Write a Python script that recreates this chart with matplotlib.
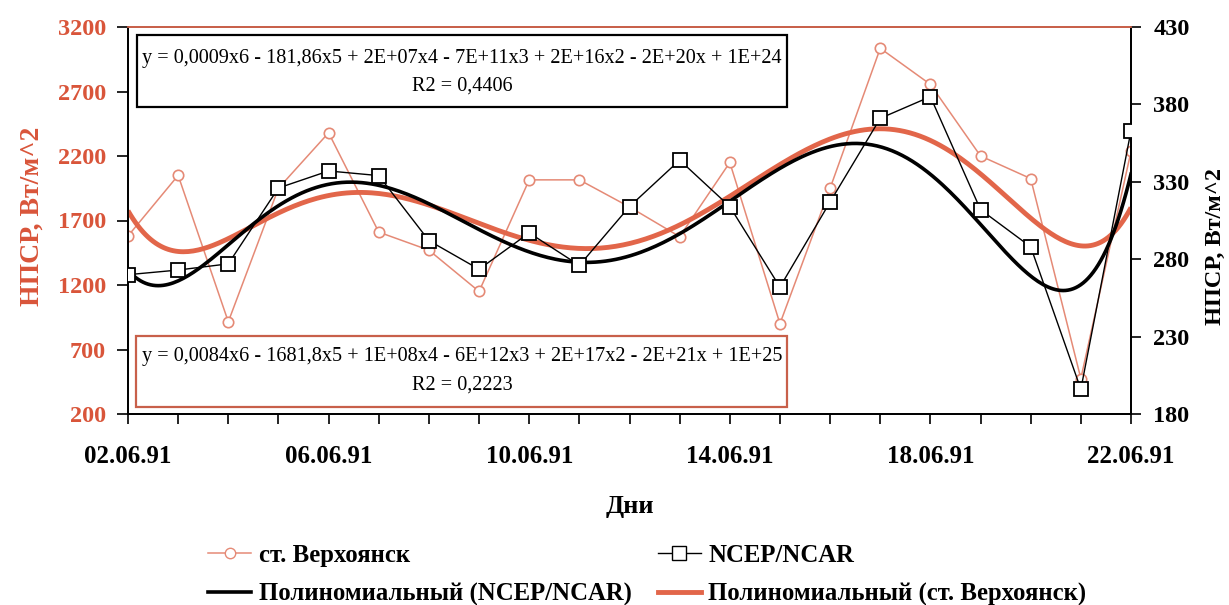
import numpy as np
import matplotlib
matplotlib.use("Agg")
import matplotlib.pyplot as plt
from matplotlib.patches import Rectangle
from matplotlib.lines import Line2D

# ---------------- data ----------------
days = list(range(2, 23))  # 02.06.91 .. 22.06.91
verkhoyansk = [1580, 2050, 915, 1950, 2380, 1610, 1470, 1150, 2015, 2015, 1805,
               1575, 2150, 900, 1950, 3035, 2755, 2200, 2025, 475, 2235]
ncep = [270, 273, 277, 326, 337, 334, 292, 273.5, 297, 276, 314,
        344, 314, 262, 317, 371, 385, 312, 288, 196, 363]
xtick_days = [2, 6, 10, 14, 18, 22]
xtick_labels = ["02.06.91", "06.06.91", "10.06.91", "14.06.91", "18.06.91", "22.06.91"]
left_ticks = [200, 700, 1200, 1700, 2200, 2700, 3200]
right_ticks = [180, 230, 280, 330, 380, 430]
eq_ncep = "y = 0,0009x6 - 181,86x5 + 2E+07x4 - 7E+11x3 + 2E+16x2 - 2E+20x + 1E+24"
r2_ncep = "R2 = 0,4406"
eq_verkh = "y = 0,0084x6 - 1681,8x5 + 1E+08x4 - 6E+12x3 + 2E+17x2 - 2E+21x + 1E+25"
r2_verkh = "R2 = 0,2223"
label_verkh = "ст. Верхоянск"
label_ncep = "NCEP/NCAR"
label_fit_ncep = "Полиномиальный (NCEP/NCAR)"
label_fit_verkh = "Полиномиальный (ст. Верхоянск)"
ylabel = "НПСР, Вт/м^2"
xlabel = "Дни"

RED = "#D9553A"
SALMON = "#E58A76"
FITRED = "#E2664A"

plt.rcParams["font.family"] = ["Liberation Serif", "DejaVu Serif"]

W, H = 1229, 605
fig = plt.figure(figsize=(W / 100, H / 100), dpi=100)
L, R, T, B = 128, 1131, 27, 414
ax = fig.add_axes([L / W, 1 - B / H, (R - L) / W, (B - T) / H])
ax2 = ax.twinx()

# polynomial trend (degree 6) computed from the data
x = np.array(days, dtype=float)
xs = np.linspace(x[0], x[-1], 400)
xc = x.mean()
pv = np.polyfit(x - xc, np.array(verkhoyansk, float), 6)
pn = np.polyfit(x - xc, np.array(ncep, float), 6)

ax.plot(days, verkhoyansk, color=SALMON, lw=1.1, marker="o", ms=7.5,
        mfc="white", mec=SALMON, mew=1.2, zorder=2)
ax.plot(xs, np.polyval(pv, xs - xc), color=FITRED, lw=3.5, zorder=3,
        solid_capstyle="butt")

ax2.plot(xs, np.polyval(pn, xs - xc), color="black", lw=2.6, zorder=3)
ax2.plot(days, ncep, color="black", lw=1.0, marker="s", ms=10.5,
         mfc="white", mec="black", mew=1.3, zorder=4)

ax.set_xlim(2, 22)
ax.set_ylim(200, 3200)
ax2.set_ylim(180, 430)
ax.set_xticks(days)
ax.set_xticklabels([xtick_labels[xtick_days.index(d)] if d in xtick_days else "" for d in days],
                   fontweight="bold")
ax.set_yticks(left_ticks)
ax2.set_yticks(right_ticks)
for t in ax.get_yticklabels() + ax2.get_yticklabels():
    t.set_fontweight("bold")

ax.tick_params(axis="x", direction="out", length=7, width=1.2, pad=15,
               labelsize=18, colors="black")
ax.tick_params(axis="y", direction="out", length=8, width=1.2, pad=8,
               labelsize=17.5, labelcolor=RED, color="black")
ax2.tick_params(axis="y", direction="out", length=7, width=1.2, pad=9,
                labelsize=17.5, labelcolor="black", color="black")

for a in (ax, ax2):
    for s in ("left", "right", "bottom"):
        a.spines[s].set_color("black")
        a.spines[s].set_linewidth(1.3)
    a.spines["top"].set_color("#C8604A")
    a.spines["top"].set_linewidth(1.3)

ax.set_ylabel(ylabel, color=RED, fontsize=20, fontweight="bold")
ax2.set_ylabel(ylabel, color="black", fontsize=17.5, fontweight="bold")
ax.set_xlabel(xlabel, fontsize=19, fontweight="bold")
ax.yaxis.set_label_coords(-0.083, 0.512)
ax2.yaxis.set_label_coords(1.074, 0.434)
ax.xaxis.set_label_coords(0.5, -0.21)

# equation boxes
def px2ax(px, py):
    return (px - L) / (R - L), (B - py) / (B - T)

x0, y1 = px2ax(137, 35)
x1, y0 = px2ax(787, 107)
ax2.add_patch(Rectangle((x0, y0), x1 - x0, y1 - y0, transform=ax2.transAxes,
                        fill=True, facecolor="white", edgecolor="black", lw=1.6, zorder=5))
cx = (x0 + x1) / 2
EQFS = 14.6
ax2.text(cx, px2ax(0, 59)[1], eq_ncep, transform=ax2.transAxes, ha="center", va="center",
         fontsize=EQFS, zorder=6)
ax2.text(cx, px2ax(0, 86)[1], r2_ncep, transform=ax2.transAxes, ha="center", va="center",
         fontsize=EQFS, zorder=6)

x0b, y1b = px2ax(136, 336)
x1b, y0b = px2ax(787, 407)
ax2.add_patch(Rectangle((x0b, y0b), x1b - x0b, y1b - y0b, transform=ax2.transAxes,
                        fill=True, facecolor="white", edgecolor="#C8604A", lw=1.6, zorder=5))
ax2.text(cx, px2ax(0, 357)[1], eq_verkh, transform=ax2.transAxes, ha="center", va="center",
         fontsize=EQFS, zorder=6)
ax2.text(cx, px2ax(0, 385)[1], r2_verkh, transform=ax2.transAxes, ha="center", va="center",
         fontsize=EQFS, zorder=6)

# legend
handles = [
    Line2D([], [], color=SALMON, lw=1.1, marker="o", ms=7.5, mfc="white", mec=SALMON),
    Line2D([], [], color="black", lw=2.6),
    Line2D([], [], color="black", lw=1.0, marker="s", ms=10, mfc="white", mec="black"),
    Line2D([], [], color=FITRED, lw=3.5),
]
labels = [label_verkh, label_fit_ncep, label_ncep, label_fit_verkh]
fig.legend(handles, labels, ncol=2, loc="upper left",
           bbox_to_anchor=(208 / W, 1 - 544 / H), frameon=False,
           prop={"size": 17.8, "weight": "bold"}, handlelength=1.75, handletextpad=0.3,
           columnspacing=1.05, labelspacing=0.62, borderpad=0, borderaxespad=0)

fig.savefig("out.png", dpi=100)
